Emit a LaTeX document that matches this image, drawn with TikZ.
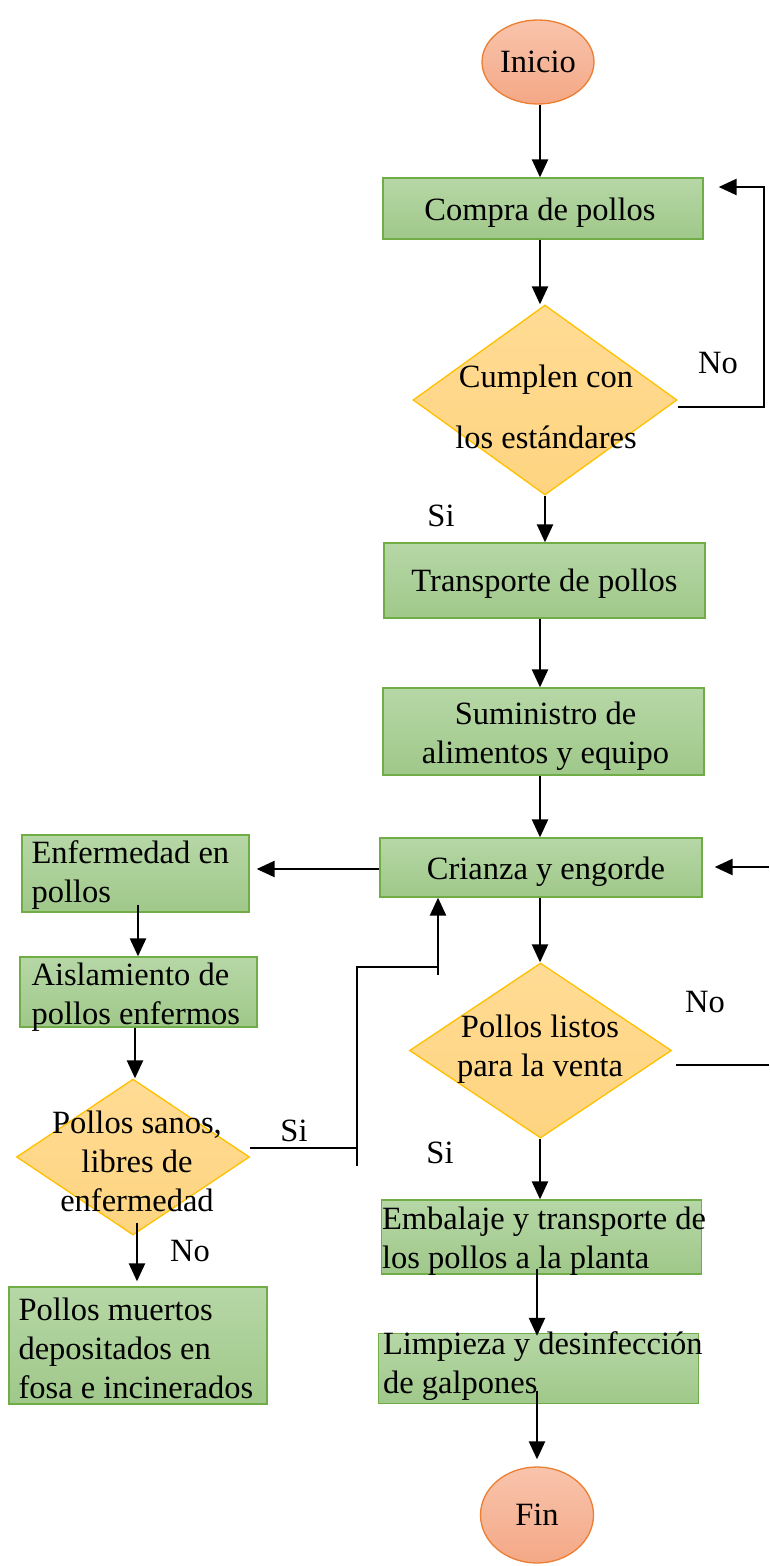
\documentclass[tikz,border=0pt]{standalone}
\usepackage{fontspec}
\setmainfont{Liberation Serif}
\usetikzlibrary{shapes.geometric,arrows.meta,calc}
\definecolor{gtop}{RGB}{182,215,166}
\definecolor{gbot}{RGB}{160,200,138}
\definecolor{gedge}{RGB}{112,173,71}
\definecolor{ytop}{RGB}{255,219,148}
\definecolor{ybot}{RGB}{254,212,128}
\definecolor{yedge}{RGB}{255,192,0}
\definecolor{otop}{RGB}{248,196,172}
\definecolor{obot}{RGB}{244,168,134}
\definecolor{oedge}{RGB}{237,125,49}
\newcommand\myfs{\fontsize{32.5}{39}\selectfont}
\tikzset{
  box/.style={rectangle, draw=gedge, line width=1.3pt, top color=gtop, bottom color=gbot, inner sep=0pt, font=\myfs},
  dia/.style={diamond, draw=yedge, line width=1.3pt, top color=ytop, bottom color=ybot, inner sep=0pt},
  term/.style={ellipse, draw=oedge, line width=1.3pt, top color=otop, bottom color=obot, inner sep=0pt, font=\myfs},
  txt/.style={font=\myfs, inner sep=0pt},
  arr/.style={line width=2.4pt, -{Triangle[length=18pt,width=16pt]}},
  ln/.style={line width=2pt},
}
\begin{document}
\begin{tikzpicture}[x=1pt,y=-1pt]
\useasboundingbox (0,0) rectangle (769,1566);
% terminals
\node[term, minimum width=112pt, minimum height=84pt] (ini) at (538,62) {Inicio};
\node[term, minimum width=113pt, minimum height=96pt] (fin) at (537,1515) {Fin};
% boxes
\node[box, minimum width=320pt, minimum height=61pt] (b1) at (543,208.5) {};
\node[box, minimum width=321pt, minimum height=75pt] (b2) at (544.5,580.5) {};
\node[box, minimum width=321pt, minimum height=87pt] (b3) at (543.5,731.5) {};
\node[box, minimum width=322pt, minimum height=59pt] (b4) at (541,867.5) {};
\node[box, minimum width=227pt, minimum height=77pt] (b5) at (135.5,873.5) {};
\node[box, minimum width=237pt, minimum height=70pt] (b6) at (138.5,992) {};
\node[box, minimum width=258pt, minimum height=117pt] (b7) at (138,1345.5) {};
\node[box, minimum width=320pt, minimum height=74pt] (b8) at (541.5,1237) {};
\node[box, minimum width=320pt, minimum height=70pt] (b9) at (538.5,1368.5) {};
% diamonds
\node[dia, minimum width=264pt, minimum height=190pt] (d1) at (545,400) {};
\node[dia, minimum width=262pt, minimum height=175pt] (d2) at (540.5,1050.5) {};
\node[dia, minimum width=233pt, minimum height=156pt] (d3) at (133,1157) {};
% texts
\node[txt] (b1t) at ($(b1.center)+(-3,4)$) {Compra de pollos};
\node[txt] (b2t) at ($(b2.center)+(0,3)$) {Transporte de pollos};
\node[txt, align=center] (b3t) at ($(b3.center)+(2,5)$) {Suministro de\\alimentos y equipo};
\node[txt] (b4t) at ($(b4.center)+(5,4)$) {Crianza y engorde};
\node[txt, anchor=west, align=left] (b5t) at ($(b5.west)+(10,2)$) {Enfermedad en\\pollos};
\node[txt, anchor=west, align=left] (b6t) at ($(b6.west)+(12,5)$) {Aislamiento de\\pollos enfermos};
\node[txt, anchor=west, align=left] (b7t) at ($(b7.west)+(10,3)$) {Pollos muertos\\depositados en\\fosa e incinerados};
\node[txt, anchor=west, align=left] (b8t) at ($(b8.west)+(1,4)$) {Embalaje y transporte de\\los pollos a la planta};
\node[txt, anchor=west, align=left] (b9t) at ($(b9.west)+(5,-2)$) {Limpieza y desinfección\\de galpones};
\node[txt, align=center] (d1t) at (546,407) {Cumplen con\\[22pt]los estándares};
\node[txt, align=center] (d2t) at (540,1049) {Pollos listos\\para la venta};
\node[txt, align=center] (d3t) at (137,1161) {Pollos sanos,\\libres de\\enfermedad};
% labels
\node[txt] (l1) at (718,363) {No};
\node[txt] (l2) at (441,516) {Si};
\node[txt] (l3) at (705,1002) {No};
\node[txt] (l4) at (440,1153) {Si};
\node[txt] (l5) at (294,1131) {Si};
\node[txt] (l6) at (190,1251) {No};
% coordinates
\coordinate (r1) at (764,187);
\coordinate (r2) at (769,867);
\coordinate (r3) at (769,1065);
\coordinate (s1) at (357,1148);
\coordinate (s2) at (357,967);
\coordinate (s3) at (357,1166);
\coordinate (s4) at (438,967);
\coordinate (s5) at (438,975);
% connectors
\draw[arr] (ini.south -| 540,0) -- (b1.north -| 540,0);
\draw[arr] (b1.south -| 540,0) -- (d1.north -| 540,0);
\draw[arr] ($(d1.east)+(0,7)$) -| (r1) -- ($(b1.east |- r1)+(15,0)$);
\draw[arr] (d1.south) -- (d1.south |- b2.north);
\draw[arr] (b2.south -| 540,0) -- (b3.north -| 540,0);
\draw[arr] (b3.south -| 540,0) -- (b4.north -| 540,0);
\draw[arr] (r2) -- ($(b4.east |- r2)+(12,0)$);
\draw[arr] (b4.west |- 0,869) -- ($(b5.east |- 0,869)+(7,0)$);
\draw[arr] ($(b5.south -| 138,0)+(0,-8)$) -- (b6.north -| 138,0);
\draw[arr] (b6.south -| 135,0) -- (d3.north -| 135,0);
\draw[arr] ($(d3.south)+(4,-13)$) -- ($(d3.south |- b7.north)+(4,-5)$);
\draw[ln] (d3.east |- s1) -- (s1);
\draw[ln] (s3) -- (s2) -- (s4);
\draw[arr] (s5) -- (s5 |- b4.south);
\draw[arr] (b4.south -| 540,0) -- (d2.north -| 540,0);
\draw[ln] ($(d2.east |- r3)+(4,0)$) -- (r3);
\draw[arr] (d2.south -| 540,0) -- (b8.north -| 540,0);
\draw[arr] ($(b8.south -| 537,0)+(0,-6)$) -- ($(b9.north -| 537,0)+(0,3)$);
\draw[arr] ($(b9.south -| 537,0)+(0,-13)$) -- ($(fin.north -| 537,0)+(0,-7)$);
\end{tikzpicture}
\end{document}
